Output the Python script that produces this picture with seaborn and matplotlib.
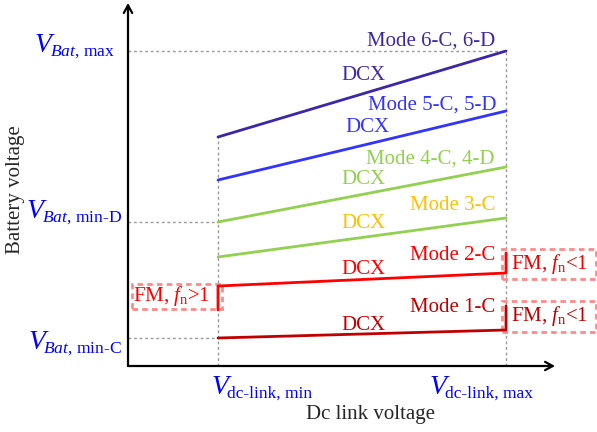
import matplotlib
matplotlib.use("Agg")
import matplotlib.pyplot as plt
from matplotlib.patches import Rectangle
import seaborn as sns
import pandas as pd

sns.set_style("white")
plt.rcParams['font.family'] = ['Liberation Serif', 'DejaVu Serif']
plt.rcParams['mathtext.fontset'] = 'custom'
plt.rcParams['mathtext.rm'] = 'Liberation Serif'
plt.rcParams['mathtext.it'] = 'Liberation Serif:italic'
plt.rcParams['mathtext.bf'] = 'Liberation Serif:bold'

# ---------------- data (relative units) ----------------
dc_link = [90, 378]                      # V_dc-link,min , V_dc-link,max
dc_subs = ["dc-link, min", "dc-link, max"]
bat_levels = [315, 144, 28]              # V_Bat,max , V_Bat,min-D , V_Bat,min-C
bat_subs = ["$Bat$, max", "$Bat$, min-D", "$Bat$, min-C"]

modes = ["Mode 1-C", "Mode 2-C", "Mode 3-C", "Mode 4-C, 4-D",
         "Mode 5-C, 5-D", "Mode 6-C, 6-D"]
v_start = [28, 80, 109, 144, 186, 229]   # battery voltage at V_dc-link,min
v_end = [36, 93, 148, 199, 255, 315]     # battery voltage at V_dc-link,max
fm_low = [None, 56, None, None, None, None]    # FM (fn>1) extension at min
fm_high = [60, 113, None, None, None, None]    # FM (fn<1) extension at max

line_colors = ["#c00000", "#ff0000", "#92d050", "#92d050", "#3333ff", "#3b27a8"]
text_colors = ["#c00000", "#ff0000", "#ffc000", "#92d050", "#3333ff", "#3b27a8"]

# ---------------- build polylines ----------------
rows = []
for m, s, e, lo, hi in zip(modes, v_start, v_end, fm_low, fm_high):
    pts = []
    if lo is not None:
        pts.append((dc_link[0], lo))
    pts.append((dc_link[0], s))
    pts.append((dc_link[1], e))
    if hi is not None:
        pts.append((dc_link[1], hi))
    for i, (x, y) in enumerate(pts):
        rows.append({"mode": m, "x": x, "y": y, "order": i})
df = pd.DataFrame(rows)

W, H = 597, 432
fig = plt.figure(figsize=(W / 100, H / 100), dpi=100)
ax = fig.add_axes([128 / W, 66 / H, 469 / W, 366 / H])
ax.set_xlim(0, 469)
ax.set_ylim(0, 366)
ax.axis("off")

# dotted reference lines
grid_kw = dict(color="#999999", lw=1, ls=(0, (2, 2)), zorder=1)
ax.plot([0, dc_link[1]], [bat_levels[0]] * 2, **grid_kw)
ax.plot([0, dc_link[0]], [bat_levels[1]] * 2, **grid_kw)
ax.plot([0, dc_link[0]], [bat_levels[2]] * 2, **grid_kw)
ax.plot([dc_link[0]] * 2, [0, v_start[-1]], **grid_kw)
ax.plot([dc_link[1]] * 2, [0, v_end[-1]], **grid_kw)

sns.lineplot(data=df, x="x", y="y", hue="mode", hue_order=modes,
             palette=dict(zip(modes, line_colors)), sort=False,
             estimator=None, legend=False, lw=2, ax=ax, zorder=3)

# axes arrows
arrow_kw = dict(arrowstyle="->,head_length=0.55,head_width=0.3", lw=1.6, color="black",
                shrinkA=0, shrinkB=0)
ax.annotate("", xy=(0, 363), xytext=(0, 0), arrowprops=arrow_kw, annotation_clip=False)
ax.annotate("", xy=(427, 0), xytext=(0, 0), arrowprops=arrow_kw, annotation_clip=False)

FS = 15
# mode labels and DCX labels
mode_y = [58, 110, 161, 207, 261, 325]
dcx_y = [41, 96, 142, 186, 238, 290]
dcx_x = [235, 235, 235, 235, 239, 235]
mode_x = [367, 367, 367, 367, 369, 367]
for m, c, mx, my, dx, dy in zip(modes, text_colors, mode_x, mode_y, dcx_x, dcx_y):
    ax.text(mx, my, m, color=c, fontsize=FS, ha="right", va="center")
    ax.text(dx, dy, "DCX", color=c, fontsize=FS, ha="center", va="center")

# FM boxes
boxes = [((4, 57), 90, 25, r"FM, $f_{\mathrm{n}}$>1", "#ff0000", -5),
         ((374, 87), 94, 30, r"FM, $f_{\mathrm{n}}$<1", "#ee0000", 1),
         ((374, 34), 94, 31, r"FM, $f_{\mathrm{n}}$<1", "#c00000", 1)]
for (bx, by), bw, bh, t, c, off in boxes:
    ax.add_patch(Rectangle((bx, by), bw, bh, fill=False, ec="#ff8a8a", lw=2,
                           ls=(0, (2, 1.5)), clip_on=False, zorder=2))
    ax.text(bx + bw / 2 + off, by + bh / 2, t, color=c, fontsize=FS,
            ha="center", va="center", clip_on=False)

BLUE = "#0000ff"
VFS, SFS = 20, 12.6
renderer = fig.canvas.get_renderer()
inv = ax.transData.inverted()

# y tick labels: subscript right-aligned, big italic V placed before it
bat_label_y = [314, 148, 17]     # baseline of V
bat_label_right = [-13, -6, -6]
for sub, yy, xr in zip(bat_subs, bat_label_y, bat_label_right):
    st = ax.text(xr, yy - 4, sub, color=BLUE, fontsize=SFS, ha="right", va="baseline")
    bb = st.get_window_extent(renderer)
    left = inv.transform((bb.x0, bb.y0))[0]
    ax.text(left + 2, yy, "V", color=BLUE, fontsize=VFS, fontstyle="italic",
            ha="right", va="baseline")

# x tick labels
dc_label_x = [84, 302]
for sub, xx in zip(dc_subs, dc_label_x):
    ax.text(xx, -28, "V", color=BLUE, fontsize=VFS, fontstyle="italic",
            ha="left", va="baseline")
    ax.text(xx + 15, -32, sub, color=BLUE, fontsize=12.5, ha="left", va="baseline")

# axis titles
ax.text(243, -53, "Dc link voltage", fontsize=FS, ha="center", va="baseline")
ax.text(-112, 176, "Battery voltage", fontsize=FS, ha="center", va="center", rotation=90)

fig.savefig("out.png", dpi=100)
